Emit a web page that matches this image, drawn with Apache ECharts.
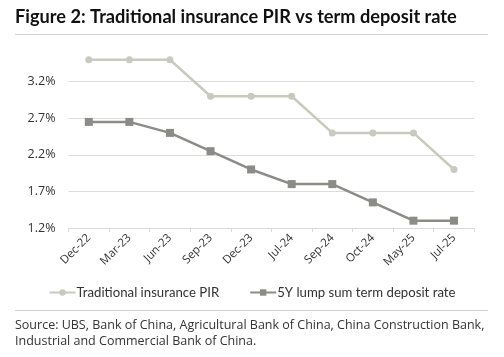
<!DOCTYPE html>
<html><head><meta charset="utf-8">
<script src="https://cdn.jsdelivr.net/npm/echarts@6/dist/echarts.min.js"></script>
<style>html,body{margin:0;padding:0;background:#fff}#c{width:504px;height:357px}</style>
</head><body><div id="c"></div>
<script>
const categories = ['Dec-22','Mar-23','Jun-23','Sep-23','Dec-23','Jul-24','Sep-24','Oct-24','May-25','Jul-25'];
const pirValues = [3.5,3.5,3.5,3.0,3.0,3.0,2.5,2.5,2.5,2.0];
const depositValues = [2.65,2.65,2.5,2.25,2.0,1.8,1.8,1.55,1.3,1.3];
const yTickLabels = ['1.2%','1.7%','2.2%','2.7%','3.2%'];
const seriesNames = ['Traditional insurance PIR','5Y lump sum term deposit rate'];
const titleText = 'Figure 2: Traditional insurance PIR vs term deposit rate';
const sourceLines = ['Source: UBS, Bank of China, Agricultural Bank of China, China Construction Bank,','Industrial and Commercial Bank of China.'];

const FONT = '"Open Sans", sans-serif';
const chart = echarts.init(document.getElementById('c'), null, {renderer:'canvas'});
const labelAt = v => {
  const k = Math.round((v - 1.2) * 10);
  if (k % 5 !== 0) return '';
  return yTickLabels[k / 5] || '';
};
chart.setOption({
  animation: false,
  grid: {left: 68.5, right: 29.7, top: 52.4, bottom: 129, containLabel: false},
  graphic: [
    {type:'text', left: 15, top: 8, style:{text: titleText, font: 'bold 18.2px Lato, sans-serif', fill:'#111'}},
    {type:'line', shape:{x1:15,y1:34.5,x2:488,y2:34.5}, style:{stroke:'#d0d0d0', lineWidth:1}},
    {type:'line', shape:{x1:15,y1:310.5,x2:488,y2:310.5}, style:{stroke:'#d0d0d0', lineWidth:1}},
    {type:'text', left: 15, top: 319, style:{text: sourceLines[0], font: '12.5px ' + FONT, fill:'#333'}},
    {type:'text', left: 15, top: 335, style:{text: sourceLines[1], font: '12.5px ' + FONT, fill:'#333'}}
  ],
  legend: {
    top: 281, left: 'center', itemGap: 30, itemWidth: 26, itemHeight: 8,
    textStyle: {fontFamily: 'Lato, sans-serif', fontSize: 13.2, color: '#333', padding:[0,0,0,-4]},
    data: [seriesNames[0], seriesNames[1]]
  },
  xAxis: {
    type: 'category', data: categories, boundaryGap: true,
    axisLine: {lineStyle: {color: '#d9d9d9', width: 1}},
    axisTick: {show: true, length: 4, lineStyle:{color:'#d9d9d9'}},
    axisLabel: {rotate: 45, fontFamily: FONT, fontSize: 11.5, color: '#333', margin: 8, interval: 0}
  },
  yAxis: {
    type: 'value', min: 1.2, max: 3.6, interval: 0.1,
    axisLine: {show: false}, axisTick: {show: false},
    axisLabel: {formatter: labelAt, fontFamily: FONT, fontSize: 12.5, color: '#333', margin: 13},
    splitLine: {show: true, lineStyle: {color: ['#dcdcdc','rgba(0,0,0,0)','rgba(0,0,0,0)','rgba(0,0,0,0)','rgba(0,0,0,0)'], width: 1}}
  },
  series: [
    {name: seriesNames[0], type: 'line', data: pirValues, symbol: 'circle', symbolSize: 7,
     lineStyle: {color: '#c9c9bf', width: 2.5}, itemStyle: {color: '#c9c9bf'}},
    {name: seriesNames[1], type: 'line', data: depositValues, symbol: 'rect', symbolSize: 8,
     lineStyle: {color: '#8b8b88', width: 2.5}, itemStyle: {color: '#8b8b88'}}
  ]
});
</script></body></html>
